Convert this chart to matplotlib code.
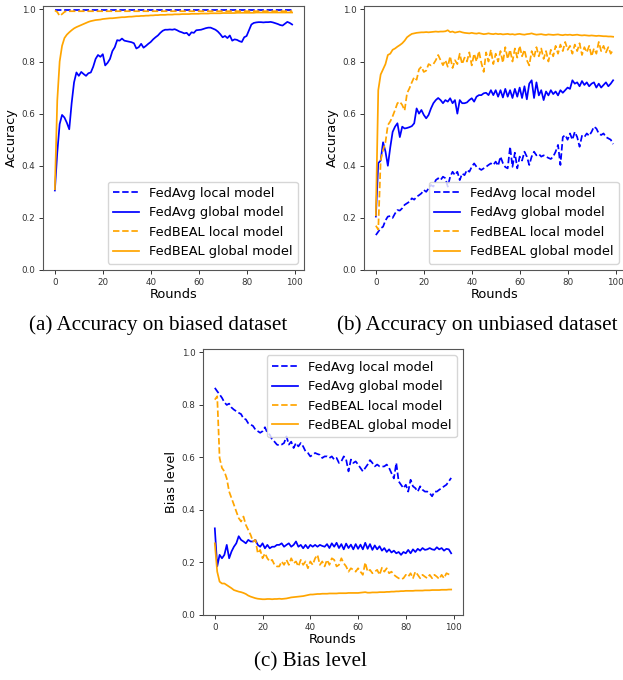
import numpy as np
import matplotlib
matplotlib.use('Agg')
import matplotlib.pyplot as plt

# ── data ─────────────────────────────────────────────────────────────────────

rounds = np.arange(100)

labels = ['FedAvg local model', 'FedAvg global model',
          'FedBEAL local model', 'FedBEAL global model']

# (a) accuracy on biased dataset
a_avg_local = [
    0.999, 0.999, 0.999, 0.999, 0.999, 0.999, 0.999, 0.999, 0.999, 0.999,
    0.999, 0.999, 0.999, 0.999, 0.999, 0.999, 0.999, 0.999, 0.999, 0.999,
    0.999, 0.999, 0.999, 0.999, 0.999, 0.999, 0.999, 0.999, 0.999, 0.999,
    0.999, 0.999, 0.999, 0.999, 0.999, 0.999, 0.999, 0.999, 0.999, 0.999,
    0.999, 0.999, 0.999, 0.999, 0.999, 0.999, 0.999, 0.999, 0.999, 0.999,
    0.999, 0.999, 0.999, 0.999, 0.999, 0.999, 0.999, 0.999, 0.999, 0.999,
    0.999, 0.999, 0.999, 0.999, 0.999, 0.999, 0.999, 0.999, 0.999, 0.999,
    0.999, 0.999, 0.999, 0.999, 0.999, 0.999, 0.999, 0.999, 0.999, 0.999,
    0.999, 0.999, 0.999, 0.999, 0.999, 0.999, 0.999, 0.999, 0.999, 0.999,
    0.999, 0.999, 0.999, 0.999, 0.999, 0.999, 0.999, 0.999, 0.999, 0.999]
a_avg_global = [
    0.305, 0.45, 0.56, 0.595, 0.585, 0.565, 0.54, 0.64, 0.72, 0.758,
    0.745, 0.76, 0.752, 0.745, 0.755, 0.758, 0.78, 0.81, 0.825, 0.818,
    0.828, 0.785, 0.795, 0.81, 0.84, 0.855, 0.882, 0.88, 0.888, 0.88,
    0.878, 0.876, 0.874, 0.87, 0.85, 0.855, 0.868, 0.853, 0.86, 0.868,
    0.875, 0.885, 0.893, 0.90, 0.91, 0.918, 0.922, 0.922, 0.923, 0.922,
    0.924, 0.92, 0.915, 0.912, 0.908, 0.91, 0.90, 0.912, 0.91, 0.92,
    0.921, 0.922, 0.925, 0.928, 0.93, 0.93, 0.926, 0.922, 0.915, 0.905,
    0.893, 0.898, 0.89, 0.90, 0.88, 0.885, 0.883, 0.878, 0.875, 0.893,
    0.898, 0.92, 0.942, 0.948, 0.95, 0.951, 0.951, 0.95, 0.951, 0.951,
    0.952, 0.95, 0.947, 0.944, 0.94, 0.938, 0.945, 0.952, 0.948, 0.942]
a_beal_local = [
    0.996, 0.99, 0.975, 0.982, 0.99, 0.994, 0.993, 0.993, 0.993, 0.993,
    0.993, 0.993, 0.993, 0.993, 0.993, 0.993, 0.993, 0.993, 0.993, 0.993,
    0.993, 0.993, 0.993, 0.993, 0.993, 0.993, 0.993, 0.993, 0.993, 0.993,
    0.993, 0.993, 0.993, 0.993, 0.993, 0.993, 0.993, 0.993, 0.993, 0.993,
    0.993, 0.993, 0.993, 0.993, 0.993, 0.993, 0.993, 0.993, 0.993, 0.993,
    0.993, 0.993, 0.993, 0.993, 0.993, 0.993, 0.993, 0.993, 0.993, 0.993,
    0.993, 0.993, 0.993, 0.993, 0.993, 0.993, 0.993, 0.993, 0.993, 0.993,
    0.993, 0.993, 0.993, 0.993, 0.993, 0.993, 0.993, 0.993, 0.993, 0.993,
    0.993, 0.993, 0.993, 0.993, 0.993, 0.993, 0.993, 0.993, 0.993, 0.993,
    0.993, 0.993, 0.993, 0.993, 0.993, 0.993, 0.993, 0.993, 0.993, 0.993]
a_beal_global = [
    0.31, 0.65, 0.80, 0.86, 0.89, 0.903, 0.912, 0.92, 0.927, 0.932,
    0.936, 0.94, 0.944, 0.948, 0.952, 0.955, 0.957, 0.959, 0.96, 0.961,
    0.963, 0.964, 0.965, 0.966, 0.966, 0.967, 0.968, 0.969, 0.97, 0.97,
    0.971, 0.972, 0.972, 0.973, 0.974, 0.974, 0.975, 0.975, 0.976, 0.976,
    0.977, 0.977, 0.978, 0.978, 0.979, 0.979, 0.979, 0.98, 0.98, 0.98,
    0.981, 0.981, 0.981, 0.982, 0.982, 0.982, 0.982, 0.983, 0.983, 0.983,
    0.983, 0.984, 0.984, 0.984, 0.984, 0.985, 0.985, 0.985, 0.985, 0.985,
    0.986, 0.986, 0.986, 0.986, 0.986, 0.986, 0.987, 0.987, 0.987, 0.987,
    0.987, 0.987, 0.987, 0.987, 0.988, 0.988, 0.988, 0.988, 0.988, 0.988,
    0.988, 0.988, 0.988, 0.988, 0.988, 0.988, 0.988, 0.988, 0.988, 0.988]

# (b) accuracy on unbiased dataset
b_avg_local = [
    0.134, 0.147, 0.16, 0.166, 0.19, 0.205, 0.207, 0.2, 0.217, 0.23,
    0.228, 0.237, 0.25, 0.256, 0.262, 0.275, 0.27, 0.281, 0.287, 0.294,
    0.307, 0.30, 0.313, 0.326, 0.32, 0.345, 0.352, 0.345, 0.358, 0.352,
    0.32, 0.358, 0.377, 0.364, 0.377, 0.345, 0.37, 0.364, 0.384, 0.377,
    0.396, 0.409, 0.396, 0.39, 0.384, 0.39, 0.396, 0.403, 0.409, 0.403,
    0.416, 0.40, 0.435, 0.41, 0.395, 0.39, 0.473, 0.396, 0.45, 0.39,
    0.435, 0.42, 0.454, 0.435, 0.403, 0.435, 0.454, 0.44, 0.445, 0.435,
    0.44, 0.435, 0.43, 0.426, 0.435, 0.454, 0.48, 0.403, 0.51, 0.518,
    0.50, 0.524, 0.50, 0.53, 0.51, 0.473, 0.515, 0.51, 0.524, 0.515,
    0.53, 0.55, 0.543, 0.524, 0.518, 0.524, 0.51, 0.505, 0.50, 0.483]
b_avg_global = [
    0.205, 0.41, 0.42, 0.49, 0.455, 0.40, 0.47, 0.53, 0.55, 0.563,
    0.51, 0.55, 0.543, 0.545, 0.548, 0.552, 0.563, 0.62, 0.60, 0.614,
    0.595, 0.582, 0.595, 0.62, 0.64, 0.652, 0.66, 0.652, 0.64, 0.652,
    0.646, 0.659, 0.64, 0.652, 0.60, 0.652, 0.64, 0.64, 0.643, 0.652,
    0.659, 0.646, 0.665, 0.671, 0.671, 0.678, 0.68, 0.671, 0.69, 0.671,
    0.69, 0.665, 0.69, 0.662, 0.695, 0.665, 0.69, 0.66, 0.695, 0.665,
    0.70, 0.66, 0.705, 0.655, 0.715, 0.728, 0.66, 0.72, 0.67, 0.69,
    0.652, 0.685, 0.67, 0.69, 0.675, 0.685, 0.67, 0.69, 0.68, 0.69,
    0.70, 0.695, 0.728, 0.715, 0.72, 0.705, 0.725, 0.71, 0.72, 0.705,
    0.715, 0.72, 0.70, 0.715, 0.70, 0.71, 0.72, 0.705, 0.715, 0.728]
b_beal_local = [
    0.17, 0.155, 0.42, 0.46, 0.49, 0.556, 0.57, 0.59, 0.614, 0.64,
    0.646, 0.633, 0.612, 0.678, 0.697, 0.72, 0.74, 0.73, 0.77, 0.78,
    0.76, 0.765, 0.79, 0.785, 0.79, 0.805, 0.825, 0.805, 0.786, 0.805,
    0.78, 0.82, 0.775, 0.805, 0.79, 0.83, 0.79, 0.815, 0.80, 0.835,
    0.785, 0.83, 0.80, 0.84, 0.795, 0.76, 0.835, 0.80, 0.845, 0.79,
    0.83, 0.80, 0.84, 0.795, 0.855, 0.81, 0.845, 0.80, 0.85, 0.815,
    0.86, 0.82, 0.845, 0.805, 0.785, 0.84, 0.815, 0.855, 0.82, 0.85,
    0.81, 0.84, 0.80, 0.845, 0.82, 0.86, 0.83, 0.865, 0.84, 0.875,
    0.845, 0.86, 0.83, 0.865, 0.84, 0.87, 0.825, 0.855, 0.835, 0.86,
    0.82, 0.85, 0.83, 0.875, 0.84, 0.86, 0.835, 0.855, 0.83, 0.845]
b_beal_global = [
    0.21, 0.69, 0.75, 0.77, 0.79, 0.825, 0.83, 0.845, 0.85, 0.857,
    0.863, 0.87, 0.88, 0.893, 0.90, 0.906, 0.908, 0.91, 0.911, 0.912,
    0.912, 0.913, 0.912, 0.913, 0.914, 0.915, 0.914, 0.915, 0.915, 0.916,
    0.92, 0.913, 0.915, 0.911, 0.913, 0.915, 0.912, 0.91, 0.909, 0.908,
    0.91, 0.908, 0.907, 0.909, 0.907, 0.905, 0.906, 0.908, 0.906, 0.905,
    0.907, 0.905, 0.906, 0.904, 0.905, 0.906, 0.904, 0.905, 0.903, 0.905,
    0.906, 0.904, 0.903, 0.905, 0.906, 0.908, 0.905, 0.903, 0.904, 0.905,
    0.903, 0.902, 0.904, 0.903, 0.902, 0.903, 0.904, 0.902, 0.901, 0.903,
    0.902, 0.903, 0.901, 0.902, 0.903, 0.901, 0.90, 0.901, 0.90, 0.899,
    0.90, 0.899, 0.898, 0.899, 0.898, 0.897, 0.897, 0.896, 0.896, 0.895]

# (c) bias level
c_avg_local = [
    0.865, 0.852, 0.84, 0.827, 0.81, 0.80, 0.805, 0.79, 0.782, 0.776,
    0.77, 0.765, 0.748, 0.745, 0.73, 0.725, 0.72, 0.706, 0.70, 0.694,
    0.70, 0.715, 0.694, 0.687, 0.668, 0.66, 0.649, 0.646, 0.649, 0.655,
    0.68, 0.649, 0.66, 0.636, 0.655, 0.642, 0.655, 0.642, 0.623, 0.617,
    0.604, 0.61, 0.617, 0.613, 0.61, 0.598, 0.604, 0.604, 0.598, 0.604,
    0.592, 0.598, 0.579, 0.585, 0.604, 0.592, 0.547, 0.592, 0.579, 0.585,
    0.573, 0.56, 0.547, 0.56, 0.573, 0.59, 0.579, 0.566, 0.573, 0.566,
    0.565, 0.566, 0.573, 0.56, 0.54, 0.52, 0.579, 0.509, 0.496, 0.483,
    0.496, 0.47, 0.515, 0.49, 0.483, 0.47, 0.49, 0.477, 0.47, 0.47,
    0.464, 0.452, 0.47, 0.47, 0.477, 0.483, 0.49, 0.496, 0.509, 0.522]
c_avg_global = [
    0.33, 0.185, 0.229, 0.216, 0.229, 0.267, 0.216, 0.242, 0.26, 0.273,
    0.30, 0.286, 0.28, 0.273, 0.286, 0.28, 0.28, 0.286, 0.267, 0.26,
    0.273, 0.254, 0.267, 0.254, 0.26, 0.26, 0.267, 0.267, 0.273, 0.26,
    0.267, 0.273, 0.26, 0.267, 0.28, 0.26, 0.267, 0.254, 0.267, 0.254,
    0.267, 0.26, 0.267, 0.26, 0.267, 0.263, 0.26, 0.27, 0.255, 0.273,
    0.26, 0.275, 0.255, 0.27, 0.25, 0.272, 0.255, 0.268, 0.25, 0.27,
    0.252, 0.268, 0.25, 0.275, 0.252, 0.27, 0.248, 0.265, 0.25, 0.262,
    0.245, 0.255, 0.24, 0.25, 0.238, 0.245, 0.235, 0.24, 0.229, 0.24,
    0.235, 0.248, 0.235, 0.25, 0.24, 0.252, 0.245, 0.255, 0.248, 0.25,
    0.255, 0.25, 0.248, 0.258, 0.25, 0.255, 0.245, 0.252, 0.25, 0.235]
c_beal_local = [
    0.82, 0.833, 0.598, 0.56, 0.547, 0.52, 0.47, 0.445, 0.42, 0.394,
    0.369, 0.356, 0.375, 0.343, 0.324, 0.305, 0.28, 0.286, 0.235, 0.248,
    0.216, 0.235, 0.216, 0.204, 0.21, 0.191, 0.185, 0.185, 0.204, 0.191,
    0.21, 0.191, 0.216, 0.197, 0.204, 0.185, 0.21, 0.191, 0.204, 0.178,
    0.204, 0.191, 0.216, 0.229, 0.191, 0.204, 0.185, 0.21, 0.191, 0.216,
    0.21, 0.185, 0.191, 0.216, 0.197, 0.185, 0.165, 0.178, 0.172, 0.165,
    0.178, 0.165, 0.153, 0.2, 0.165, 0.172, 0.159, 0.165, 0.172, 0.153,
    0.18, 0.165, 0.178, 0.159, 0.165, 0.153, 0.146, 0.14, 0.136, 0.14,
    0.153, 0.146, 0.159, 0.14, 0.165, 0.153, 0.14, 0.153, 0.146, 0.14,
    0.153, 0.14, 0.153, 0.146, 0.137, 0.153, 0.14, 0.159, 0.155, 0.153]
c_beal_global = [
    0.273, 0.165, 0.127, 0.12, 0.12, 0.114, 0.108, 0.102, 0.095, 0.092,
    0.089, 0.087, 0.084, 0.08, 0.074, 0.07, 0.067, 0.064, 0.062, 0.061,
    0.06, 0.06, 0.061, 0.061, 0.06, 0.061, 0.061, 0.062, 0.061, 0.062,
    0.063, 0.065, 0.067, 0.068, 0.069, 0.07, 0.071, 0.072, 0.074, 0.076,
    0.078, 0.078, 0.079, 0.08, 0.08, 0.081, 0.081, 0.081, 0.082, 0.082,
    0.082, 0.082, 0.083, 0.083, 0.083, 0.083, 0.084, 0.084, 0.084, 0.084,
    0.084, 0.085, 0.086, 0.087, 0.085, 0.085, 0.086, 0.086, 0.086, 0.087,
    0.087, 0.087, 0.088, 0.088, 0.089, 0.089, 0.09, 0.09, 0.091, 0.091,
    0.092, 0.092, 0.092, 0.092, 0.093, 0.093, 0.093, 0.093, 0.094, 0.094,
    0.094, 0.095, 0.095, 0.095, 0.095, 0.096, 0.096, 0.096, 0.097, 0.097]

captions = ['(a) Accuracy on biased dataset',
            '(b) Accuracy on unbiased dataset',
            '(c) Bias level']


# ── drawing ──────────────────────────────────────────────────────────────────

W, H = 623, 680


def px_axes(fig, left, top, right, bottom):
    """Add axes from pixel box (origin top-left)."""
    return fig.add_axes([left / W, 1 - bottom / H,
                         (right - left) / W, (bottom - top) / H])


def draw_panel(ax, series, ylabel, legend_loc):
    styles = [('blue', '--'), ('blue', '-'), ('orange', '--'), ('orange', '-')]
    for ys, (c, ls), lab in zip(series, styles, labels):
        ax.plot(rounds, ys, color=c, linestyle=ls, lw=1.25, label=lab)
    ax.set_ylim(0, 1.013)
    ax.set_xticks([0, 20, 40, 60, 80, 100])
    ax.set_yticks([0.0, 0.2, 0.4, 0.6, 0.8, 1.0])
    ax.tick_params(labelsize=6.3, colors='#333333', length=3, width=0.7,
                   pad=2.5)
    for sp in ax.spines.values():
        sp.set_color('#555555')
        sp.set_linewidth(0.8)
    ax.set_xlabel('Rounds', fontsize=9.3, labelpad=1)
    ax.set_ylabel(ylabel, fontsize=9.3, labelpad=2.5)
    ax.legend(loc=legend_loc, fontsize=9.3, handlelength=2.0,
              borderaxespad=0.5, framealpha=0.8)


fig = plt.figure(figsize=(W / 100, H / 100), dpi=100)

ax_a = px_axes(fig, 43, 6, 304, 270)
draw_panel(ax_a, [a_avg_local, a_avg_global, a_beal_local, a_beal_global],
           'Accuracy', 'lower right')

ax_b = px_axes(fig, 364, 6, 625, 270)
draw_panel(ax_b, [b_avg_local, b_avg_global, b_beal_local, b_beal_global],
           'Accuracy', 'lower right')

ax_c = px_axes(fig, 203, 349, 463, 615)
draw_panel(ax_c, [c_avg_local, c_avg_global, c_beal_local, c_beal_global],
           'Bias level', 'upper right')

serif = ['Liberation Serif', 'DejaVu Serif']
fig.text(158 / W, 1 - 325 / H, captions[0], ha='center', va='center',
         fontsize=15.2, family=serif)
fig.text(477 / W, 1 - 325 / H, captions[1], ha='center', va='center',
         fontsize=15.2, family=serif)
fig.text(311 / W, 1 - 662 / H, captions[2], ha='center', va='center',
         fontsize=15.2, family=serif)

fig.savefig('out.png', dpi=100)
